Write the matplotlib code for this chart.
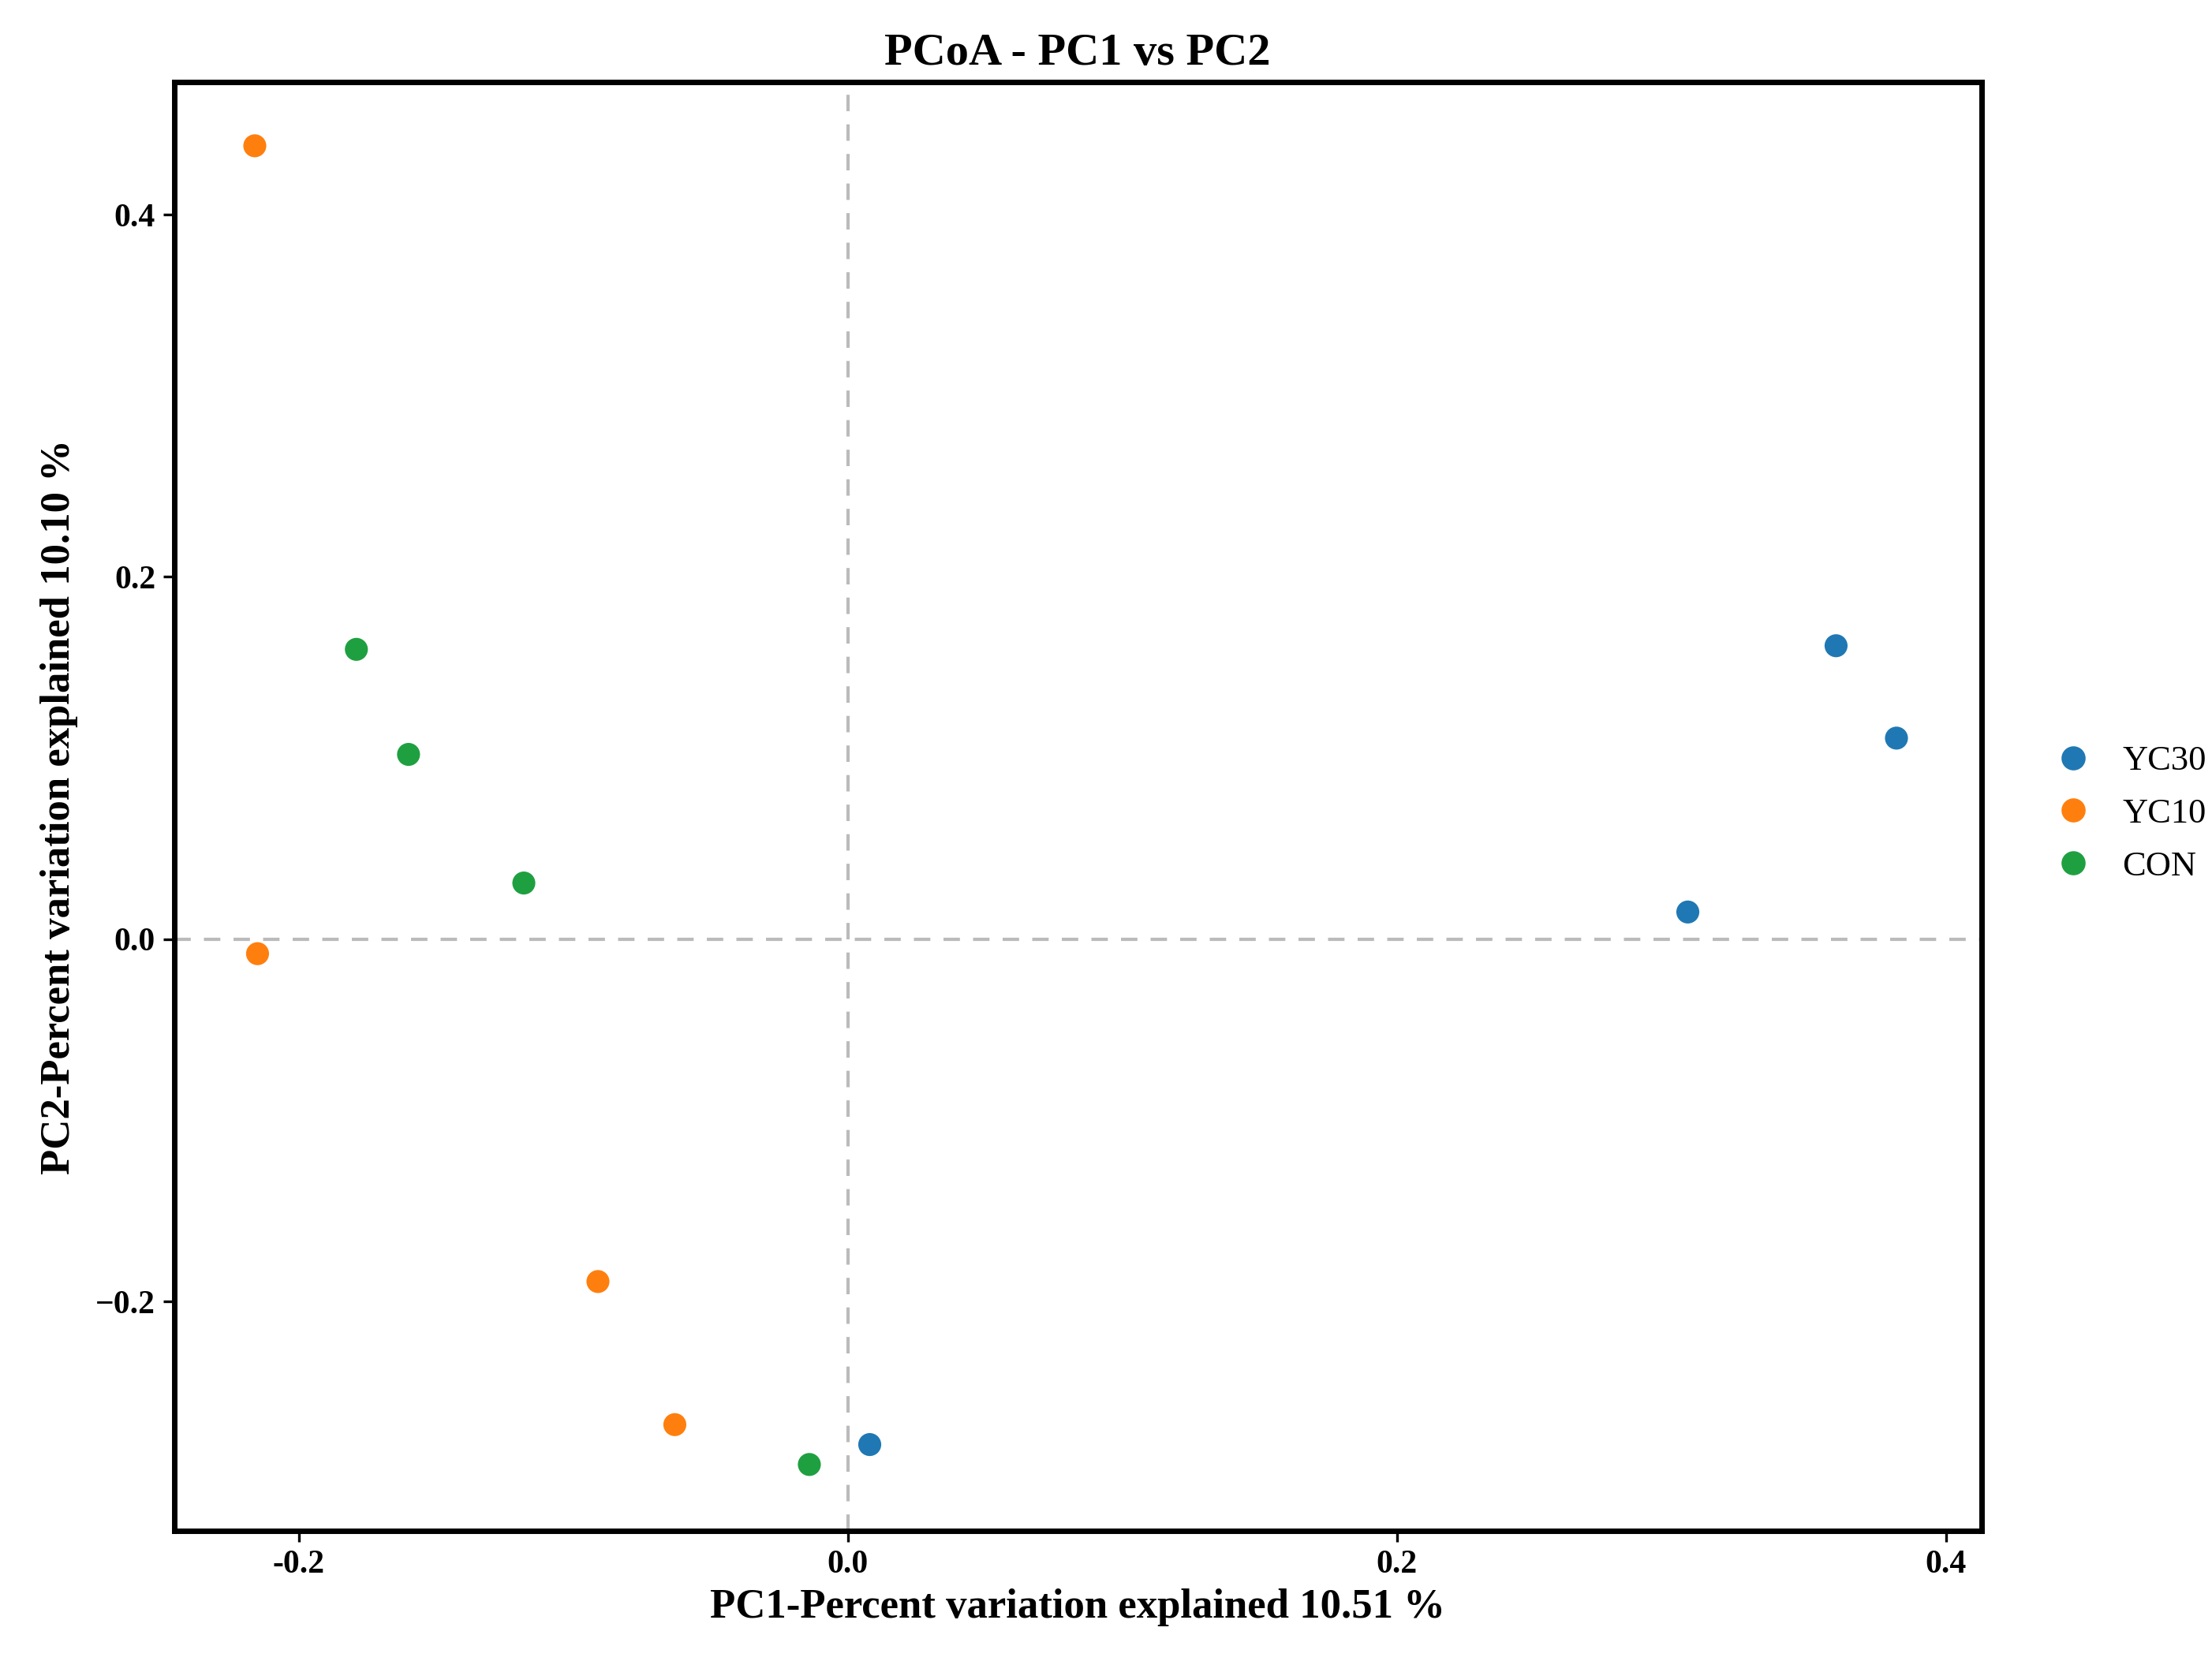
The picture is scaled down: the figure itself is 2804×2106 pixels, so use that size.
import matplotlib
matplotlib.use("Agg")
import matplotlib.pyplot as plt
from matplotlib.lines import Line2D

groups = ["YC30", "YC10", "CON"]
colors = ["#1f78b4", "#ff7f0e", "#1fa040"]
yc30_x = [0.360, 0.382, 0.306, 0.008]
yc30_y = [0.162, 0.111, 0.015, -0.279]
yc10_x = [-0.216, -0.215, -0.091, -0.063]
yc10_y = [0.438, -0.008, -0.189, -0.268]
con_x = [-0.179, -0.160, -0.118, -0.014]
con_y = [0.160, 0.102, 0.031, -0.290]

plt.rcParams["font.family"] = "Liberation Serif"
fig = plt.figure(figsize=(14.02, 10.53), dpi=200)
ax = fig.add_axes([0.0787, 0.0784, 0.817, 0.872])

ax.axhline(0, color="#bbbbbb", ls=(0, (5, 4)), lw=1.5, zorder=1)
ax.axvline(0, color="#bbbbbb", ls=(0, (5, 4)), lw=1.5, zorder=1)
for xs, ys, c in [(yc30_x, yc30_y, colors[0]), (yc10_x, yc10_y, colors[1]), (con_x, con_y, colors[2])]:
    ax.scatter(xs, ys, s=110, color=c, zorder=3, edgecolors="none")

ax.set_xlim(-0.2454, 0.4129)
ax.set_ylim(-0.3266, 0.473)
ax.set_xticks([-0.2, 0.0, 0.2, 0.4])
ax.set_xticklabels(["-0.2", "0.0", "0.2", "0.4"])
ax.set_yticks([-0.2, 0.0, 0.2, 0.4])
ax.set_yticklabels(["\u22120.2", "0.0", "0.2", "0.4"])
ax.tick_params(labelsize=15, length=5, width=1.2)
for lab in ax.get_xticklabels() + ax.get_yticklabels():
    lab.set_fontweight("bold")
for s in ax.spines.values():
    s.set_linewidth(2.5)

ax.set_title("PCoA - PC1 vs PC2", fontsize=21, fontweight="bold", pad=8)
ax.set_xlabel("PC1-Percent variation explained 10.51 %", fontsize=19, fontweight="bold", labelpad=4)
ax.set_ylabel("PC2-Percent variation explained 10.10 %", fontsize=19, fontweight="bold", labelpad=8)

handles = [Line2D([], [], marker="o", ls="none", color=c, markersize=10) for c in colors]
fig.legend(handles, groups, loc="center left", bbox_to_anchor=(0.915, 0.51),
           frameon=False, fontsize=16, handletextpad=0.4, labelspacing=0.6,
           borderaxespad=0)
fig.savefig("out.png", dpi=200)
